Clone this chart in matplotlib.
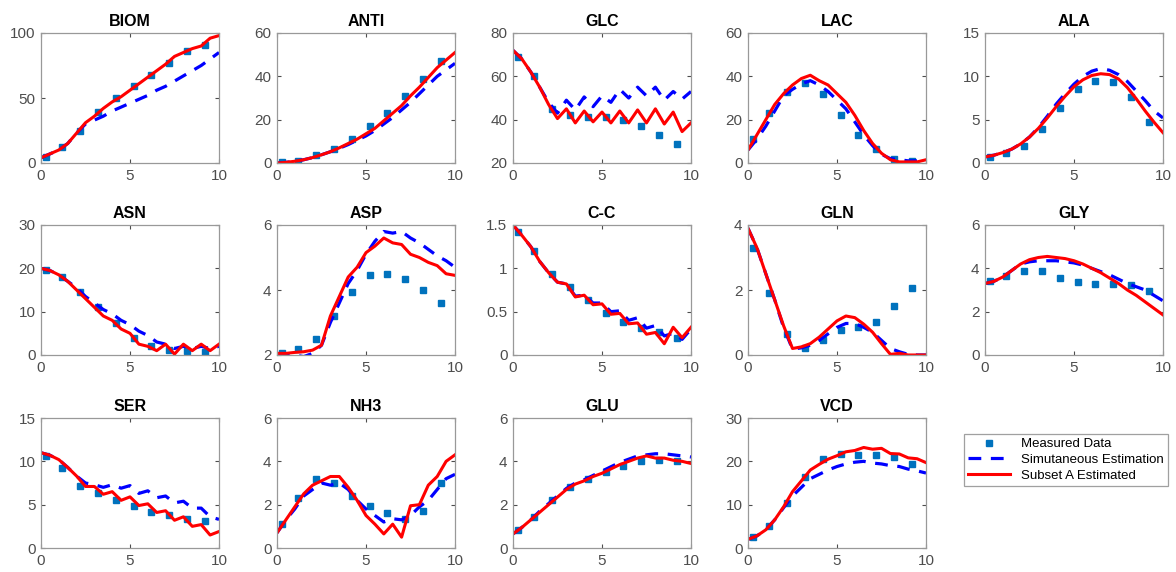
import matplotlib
matplotlib.use("Agg")
import matplotlib.pyplot as plt
import numpy as np
from matplotlib.ticker import FuncFormatter

# sample times
t_meas = [0.3, 1.2, 2.2, 3.2, 4.2, 5.2, 6.2, 7.2, 8.2, 9.2]
t_sim = [0, 0.5, 1, 1.5, 2, 2.5, 3, 3.5, 4, 4.5, 5, 5.5, 6, 6.5, 7, 7.5, 8, 8.5, 9, 9.5, 10]

# measured / simultaneous estimation / subset A estimated
biom_meas = [5, 12, 25, 39, 50, 59, 68, 77, 86, 91]
biom_sim = [4, 7, 10, 15, 23, 30, 33, 36, 40, 43, 46, 49, 52, 56, 59, 63, 67, 71, 75, 80, 85]
biom_sub = [4, 7, 10, 15, 23, 31, 36, 42, 47, 51, 56, 61, 66, 71, 76, 82, 85, 88, 90, 96, 98]

anti_meas = [0.5, 1, 3.5, 6.5, 11, 17, 23, 31, 39, 47]
anti_sim = [0, 0.3, 0.8, 1.5, 2.5, 3.8, 5.2, 6.8, 8.5, 10.5, 12.5, 15, 18, 21, 24.5, 28, 32, 36, 40, 43, 46]
anti_sub = [0, 0.3, 0.8, 1.5, 2.5, 3.8, 5.2, 7, 9, 11, 13.5, 16, 19.5, 23, 26.5, 31, 35, 39.5, 44, 47.5, 51]

glc_meas = [69, 60, 45, 42, 41, 41, 40, 37, 33, 29]
glc_sim = [72, 68, 62, 55, 48, 43, 49, 44.5, 50.5, 46, 51, 48, 54, 50, 55, 51, 55, 49, 53, 49.5, 53]
glc_sub = [72, 68, 62, 55, 47, 40.5, 45, 38.5, 44, 39, 43.5, 38.5, 44, 38.5, 44.5, 38.5, 45, 38, 43.5, 34.5, 38.5]

lac_meas = [11, 23, 33, 37, 32, 22, 13, 6.5, 2, 1]
lac_sim = [6, 11, 17, 24, 31, 34, 36.5, 38, 36, 33, 29, 25, 19, 13, 8, 4, 2, 1.5, 1, 1, 2]
lac_sub = [6, 13, 20, 27, 32, 36, 39, 40.5, 38, 36, 32, 28, 22, 15, 9, 4.5, 1.5, 0.5, 0.5, 0.5, 1.5]

ala_meas = [0.7, 1.1, 2, 3.9, 6.3, 8.5, 9.5, 9.3, 7.6, 4.7]
ala_sim = [0.7, 0.9, 1.2, 1.6, 2.2, 3.0, 4.1, 5.4, 6.8, 8.0, 9.1, 10.0, 10.6, 10.9, 10.7, 10.2, 9.4, 8.3, 7.2, 6.0, 5.2]
ala_sub = [0.7, 0.9, 1.2, 1.6, 2.2, 3.0, 4.0, 5.2, 6.5, 7.7, 8.8, 9.6, 10.1, 10.3, 10.2, 9.7, 8.7, 7.4, 6.0, 4.7, 3.5]

asn_meas = [19.7, 18, 14.5, 11, 7.5, 4, 2, 1.2, 1, 0.8]
asn_sim = [20, 19.5, 18.5, 17, 15.5, 13.5, 12, 10.5, 9.5, 8, 7, 5.5, 4.5, 3, 2.5, 1.5, 2, 1.5, 2, 1.5, 2]
asn_sub = [20, 19.5, 18.5, 17, 15, 13, 11, 9, 8, 6, 5, 2.5, 2, 1, 2.5, 0.2, 2.5, 1, 2.5, 1, 2.5]

asp_meas = [2.05, 2.2, 2.5, 3.2, 3.95, 4.45, 4.5, 4.35, 4.0, 3.6]
asp_sim = [2.05, 2.0, 2.0, 1.95, 2.05, 2.3, 3.0, 3.6, 4.2, 4.6, 5.1, 5.5, 5.8, 5.75, 5.8, 5.6, 5.45, 5.25, 5.05, 4.9, 4.7]
asp_sub = [2.05, 2.05, 2.08, 2.1, 2.15, 2.3, 3.2, 3.8, 4.4, 4.7, 5.15, 5.35, 5.6, 5.45, 5.4, 5.1, 5.0, 4.85, 4.75, 4.5, 4.45]

cc_meas = [1.42, 1.2, 0.93, 0.79, 0.64, 0.49, 0.38, 0.31, 0.26, 0.2]
cc_sim = [1.5, 1.38, 1.25, 1.08, 0.95, 0.84, 0.82, 0.68, 0.69, 0.6, 0.6, 0.5, 0.51, 0.4, 0.43, 0.31, 0.34, 0.22, 0.25, 0.18, 0.3]
cc_sub = [1.5, 1.38, 1.25, 1.08, 0.95, 0.84, 0.82, 0.67, 0.69, 0.58, 0.59, 0.47, 0.48, 0.36, 0.37, 0.24, 0.26, 0.13, 0.32, 0.2, 0.32]

gln_meas = [3.3, 1.9, 0.65, 0.22, 0.45, 0.78, 0.85, 1.02, 1.52, 2.05]
gln_sim = [3.9, 3.3, 2.5, 1.7, 0.85, 0.18, 0.22, 0.3, 0.45, 0.65, 0.85, 0.97, 0.97, 0.85, 0.7, 0.45, 0.2, 0.1, 0.02, 0.0, 0.0]
gln_sub = [3.9, 3.3, 2.5, 1.7, 0.9, 0.2, 0.25, 0.35, 0.55, 0.8, 1.05, 1.2, 1.15, 0.95, 0.7, 0.35, 0.02, 0.05, 0.0, 0.0, 0.0]

gly_meas = [3.4, 3.65, 3.9, 3.9, 3.55, 3.35, 3.3, 3.3, 3.25, 2.95]
gly_sim = [3.3, 3.4, 3.6, 3.9, 4.2, 4.3, 4.35, 4.35, 4.35, 4.3, 4.25, 4.15, 4.0, 3.85, 3.7, 3.5, 3.3, 3.15, 3.0, 2.75, 2.5]
gly_sub = [3.3, 3.4, 3.6, 3.9, 4.2, 4.4, 4.5, 4.55, 4.5, 4.45, 4.35, 4.2, 4.0, 3.8, 3.55, 3.3, 3.0, 2.75, 2.45, 2.15, 1.85]

ser_meas = [10.6, 9.2, 7.2, 6.3, 5.5, 4.8, 4.2, 3.8, 3.4, 3.1]
ser_sim = [11, 10.7, 10.2, 9.3, 8.3, 7.5, 7.3, 7.0, 7.3, 6.9, 7.2, 6.3, 6.6, 5.8, 6.0, 5.2, 5.4, 4.6, 4.6, 3.6, 3.3]
ser_sub = [11, 10.7, 10.2, 9.3, 8.3, 7.1, 7.1, 6.2, 6.5, 5.5, 5.9, 4.9, 5.1, 4.1, 4.3, 3.2, 3.6, 2.5, 2.7, 1.5, 1.9]

nh3_meas = [1.1, 2.3, 3.2, 3.0, 2.4, 1.95, 1.6, 1.35, 1.7, 3.0]
nh3_sim = [0.7, 1.3, 1.8, 2.4, 2.7, 3.0, 2.9, 3.0, 2.7, 2.2, 1.8, 1.5, 1.2, 1.35, 1.3, 1.5, 1.9, 2.2, 2.7, 3.2, 3.4]
nh3_sub = [0.7, 1.3, 1.9, 2.5, 2.9, 3.1, 3.3, 3.3, 2.8, 2.2, 1.5, 1.1, 0.65, 1.1, 0.5, 1.95, 2.0, 2.9, 3.3, 4.0, 4.3]

glu_meas = [0.85, 1.45, 2.2, 2.8, 3.2, 3.5, 3.8, 4.0, 4.05, 4.0]
glu_sim = [0.65, 0.95, 1.3, 1.7, 2.05, 2.4, 2.75, 3.0, 3.15, 3.35, 3.55, 3.75, 3.95, 4.1, 4.25, 4.3, 4.35, 4.35, 4.3, 4.25, 4.2]
glu_sub = [0.65, 0.95, 1.3, 1.65, 2.0, 2.35, 2.7, 2.95, 3.1, 3.3, 3.45, 3.65, 3.85, 4.0, 4.15, 4.25, 4.15, 4.15, 4.05, 4.0, 3.9]

vcd_meas = [2.5, 5, 10.5, 16.3, 20.5, 21.8, 21.5, 21.5, 21, 19.5]
vcd_sim = [2, 2.8, 4.2, 6.5, 9.3, 12, 14, 16, 17, 18, 18.8, 19.4, 19.8, 20, 19.6, 19.4, 19, 18.8, 18.2, 17.8, 17.3]
vcd_sub = [2, 2.8, 4.2, 6.5, 9.5, 13, 15.5, 18, 19.3, 20.5, 21.3, 22.2, 22.5, 23.2, 22.8, 23, 21.8, 21.7, 20.8, 20.6, 19.7]

titles = ["BIOM", "ANTI", "GLC", "LAC", "ALA", "ASN", "ASP", "C-C", "GLN", "GLY",
          "SER", "NH3", "GLU", "VCD"]
meas = [biom_meas, anti_meas, glc_meas, lac_meas, ala_meas, asn_meas, asp_meas, cc_meas,
        gln_meas, gly_meas, ser_meas, nh3_meas, glu_meas, vcd_meas]
sim = [biom_sim, anti_sim, glc_sim, lac_sim, ala_sim, asn_sim, asp_sim, cc_sim,
       gln_sim, gly_sim, ser_sim, nh3_sim, glu_sim, vcd_sim]
sub = [biom_sub, anti_sub, glc_sub, lac_sub, ala_sub, asn_sub, asp_sub, cc_sub,
       gln_sub, gly_sub, ser_sub, nh3_sub, glu_sub, vcd_sub]
yticks = [[0, 50, 100], [0, 20, 40, 60], [20, 40, 60, 80], [0, 20, 40, 60], [0, 5, 10, 15],
          [0, 10, 20, 30], [2, 4, 6], [0, 0.5, 1, 1.5], [0, 2, 4], [0, 2, 4, 6],
          [0, 5, 10, 15], [0, 2, 4, 6], [0, 2, 4, 6], [0, 10, 20, 30]]

W, H = 1176, 572
fig = plt.figure(figsize=(W / 100, H / 100), dpi=100)
plt.rcParams['font.family'] = ['Liberation Sans', 'DejaVu Sans']

col_left = [41, 277, 513, 748, 985]
row_top = [33, 225, 418]
aw, ah = 178, 130
grey = '#4d4d4d'

for i, name in enumerate(titles):
    r, c = divmod(i, 5)
    ax = fig.add_axes([col_left[c] / W, 1 - (row_top[r] + ah) / H, aw / W, ah / H])
    ax.plot(t_meas, meas[i], 's', color='#0072BD', markersize=5, label='Measured Data')
    ax.plot(t_sim, sim[i], '--', color='#0000FF', lw=2.3, dashes=(4, 3),
            label='Simutaneous Estimation')
    ax.plot(t_sim, sub[i], '-', color='#FF0000', lw=2.2, label='Subset A Estimated')
    ax.set_xlim(0, 10)
    ax.set_ylim(yticks[i][0], yticks[i][-1])
    ax.set_xticks([0, 5, 10])
    ax.set_yticks(yticks[i])
    ax.yaxis.set_major_formatter(FuncFormatter(lambda v, p: '%g' % v))
    ax.set_title(name, fontsize=11.5, fontweight='bold', pad=5)
    ax.tick_params(direction='in', length=3, labelsize=11, colors=grey, labelcolor=grey,
                   top=True, right=True, pad=4)
    for s in ax.spines.values():
        s.set_color('#999999')
        s.set_linewidth(0.9)
    if i == 0:
        handles, labels = ax.get_legend_handles_labels()

leg = fig.legend(handles, labels, loc='upper left',
                 bbox_to_anchor=(957 / W, 1 - 427 / H), fontsize=9.5,
                 frameon=True, fancybox=False, edgecolor='#888888',
                 handlelength=3.2, borderpad=0.35, labelspacing=0.25)
leg.get_frame().set_linewidth(0.9)

fig.savefig('out.png', dpi=100)
